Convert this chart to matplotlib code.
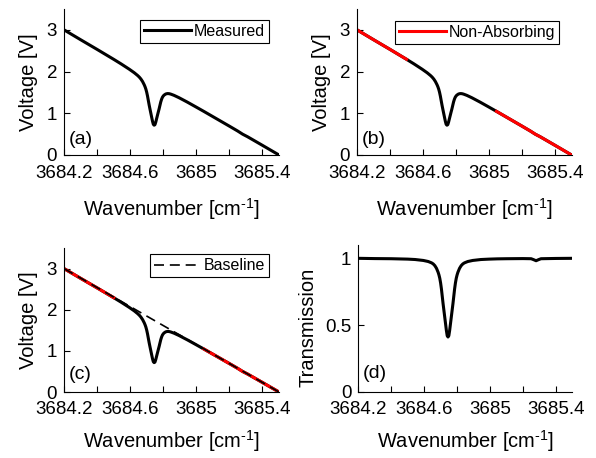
import numpy as np
import matplotlib
matplotlib.use("Agg")
import matplotlib.pyplot as plt

plt.rcParams['font.family'] = ['Liberation Sans', 'DejaVu Sans']
plt.rcParams['mathtext.fontset'] = 'custom'
plt.rcParams['mathtext.rm'] = 'Liberation Sans'
plt.rcParams['mathtext.it'] = 'Liberation Sans'

# wavenumber grid [cm^-1] (dense around the absorption dip)
wavenumber = [3684.20, 3684.30, 3684.40, 3684.50, 3684.545, 3684.595, 3684.625, 3684.645,
              3684.655, 3684.665, 3684.675, 3684.685, 3684.69, 3684.695, 3684.70, 3684.705,
              3684.71, 3684.715, 3684.72, 3684.725, 3684.73, 3684.735, 3684.74, 3684.745,
              3684.75, 3684.755, 3684.76, 3684.765, 3684.77, 3684.775, 3684.78, 3684.785,
              3684.79, 3684.795, 3684.80, 3684.805, 3684.815, 3684.825, 3684.835, 3684.845,
              3684.865, 3684.895, 3684.945, 3684.995, 3685.045, 3685.10, 3685.20, 3685.25,
              3685.265, 3685.28, 3685.295, 3685.31, 3685.40, 3685.50]

# measured detector voltage [V]
measured = [3.000, 2.764, 2.531, 2.294, 2.184, 2.055, 1.971, 1.906,
            1.868, 1.821, 1.761, 1.683, 1.636, 1.579, 1.505, 1.413,
            1.304, 1.196, 1.098, 1.002, 0.906, 0.812, 0.737, 0.714,
            0.727, 0.791, 0.871, 0.950, 1.028, 1.104, 1.188, 1.271,
            1.335, 1.383, 1.413, 1.435, 1.462, 1.472, 1.470, 1.460,
            1.430, 1.374, 1.269, 1.158, 1.046, 0.920, 0.691, 0.575,
            0.537, 0.499, 0.468, 0.437, 0.231, 0.000]

# transmission spectrum
transmission = [1.000, 0.998, 0.997, 0.994, 0.991, 0.984, 0.976, 0.966,
                0.958, 0.945, 0.925, 0.895, 0.875, 0.850, 0.815, 0.770,
                0.715, 0.660, 0.610, 0.560, 0.510, 0.460, 0.420, 0.410,
                0.420, 0.460, 0.510, 0.560, 0.610, 0.660, 0.715, 0.770,
                0.815, 0.850, 0.875, 0.895, 0.925, 0.945, 0.958, 0.966,
                0.976, 0.984, 0.991, 0.994, 0.996, 0.997, 0.998, 0.997,
                0.990, 0.982, 0.990, 0.997, 0.999, 1.000]

# fitted linear baseline [V]
baseline_w = [3684.2, 3685.5]
baseline_v = [3.0, 0.0]

# non-absorbing regions used for the baseline fit
non_absorbing = [(3684.2, 3684.5), (3685.0, 3685.5)]

xticks = [3684.2, 3684.4, 3684.6, 3684.8, 3685.0, 3685.2, 3685.4]
xticklabels = ['3684.2', '', '3684.6', '', '3685', '', '3685.4']
v_ticks = [0, 1, 2, 3]
v_ticklabels = ['0', '1', '2', '3']
t_ticks = [0, 0.5, 1]
t_ticklabels = ['0', '0.5', '1']

w = np.array(wavenumber)
v = np.array(measured)

fig = plt.figure(figsize=(5.96, 4.58), dpi=100)
ax_a = fig.add_axes([0.1074, 0.6616, 0.3607, 0.3188])
ax_b = fig.add_axes([0.5990, 0.6616, 0.3600, 0.3188])
ax_c = fig.add_axes([0.1074, 0.1441, 0.3607, 0.3144])
ax_d = fig.add_axes([0.6012, 0.1448, 0.3590, 0.3203])

LW = 2.2
TICK_FS = 13.5
LABEL_FS = 14.5
LEG_FS = 11.5
XLABEL = 'Wavenumber [cm$^{\\text{-1}}$]'


def style(ax, yticks, yticklabels, ylim, ylabel, letter, ly, ylx, yly, xpad, lpad):
    ax.set_xlim(3684.2, 3685.5)
    ax.set_ylim(*ylim)
    ax.set_xticks(xticks)
    ax.set_xticklabels(xticklabels)
    ax.set_yticks(yticks)
    ax.set_yticklabels(yticklabels)
    for s in ['top', 'right']:
        ax.spines[s].set_visible(False)
    for s in ['left', 'bottom']:
        ax.spines[s].set_linewidth(0.8)
    ax.tick_params(direction='in', length=4, width=0.8, labelsize=TICK_FS)
    ax.tick_params(axis='x', pad=xpad)
    ax.tick_params(axis='y', pad=5)
    ax.set_xlabel(XLABEL, fontsize=LABEL_FS, labelpad=lpad)
    ax.set_ylabel(ylabel, fontsize=LABEL_FS)
    ax.yaxis.set_label_coords(ylx, yly)
    ax.text(0.02, ly, letter, transform=ax.transAxes, fontsize=14, va='baseline')


def legend(ax, anchor):
    leg = ax.legend(loc='upper right', bbox_to_anchor=anchor, fontsize=LEG_FS,
                    frameon=True, fancybox=False, framealpha=1, edgecolor='black',
                    handlelength=2.9, handletextpad=0.2, borderpad=0.25,
                    borderaxespad=0)
    leg.get_frame().set_linewidth(0.8)


# (a) measured signal
ax_a.plot(w, v, color='black', lw=LW, label='Measured')
style(ax_a, v_ticks, v_ticklabels, (0, 3.5), 'Voltage [V]', '(a)', 0.072, -0.121, 0.5, 7.4, 9.9)
legend(ax_a, (0.953, 0.925))

# (b) non-absorbing regions
ax_b.plot(w, v, color='black', lw=LW)
for i, (lo, hi) in enumerate(non_absorbing):
    m = (w >= lo) & (w <= hi)
    ax_b.plot(w[m], v[m], color='red', lw=LW, label='Non-Absorbing' if i == 0 else None)
style(ax_b, v_ticks, v_ticklabels, (0, 3.5), 'Voltage [V]', '(b)', 0.072, -0.121, 0.5, 7.4, 9.9)
legend(ax_b, (0.943, 0.92))

# (c) baseline fit
ax_c.plot(w, v, color='black', lw=LW)
for lo, hi in non_absorbing:
    m = (w >= lo) & (w <= hi)
    ax_c.plot(w[m], v[m], color='red', lw=LW)
ax_c.plot(baseline_w, baseline_v, color='black', lw=1.2, dashes=(6, 3.5), label='Baseline')
style(ax_c, v_ticks, v_ticklabels, (0, 3.5), 'Voltage [V]', '(c)', 0.088, -0.121, 0.5, 6.6, 7.4)
legend(ax_c, (0.952, 0.956))

# (d) transmission
ax_d.plot(w, transmission, color='black', lw=LW)
style(ax_d, t_ticks, t_ticklabels, (0, 1.1), 'Transmission', '(d)', 0.093, -0.19, 0.44, 6.6, 7.4)

fig.savefig('out.png', dpi=100)
